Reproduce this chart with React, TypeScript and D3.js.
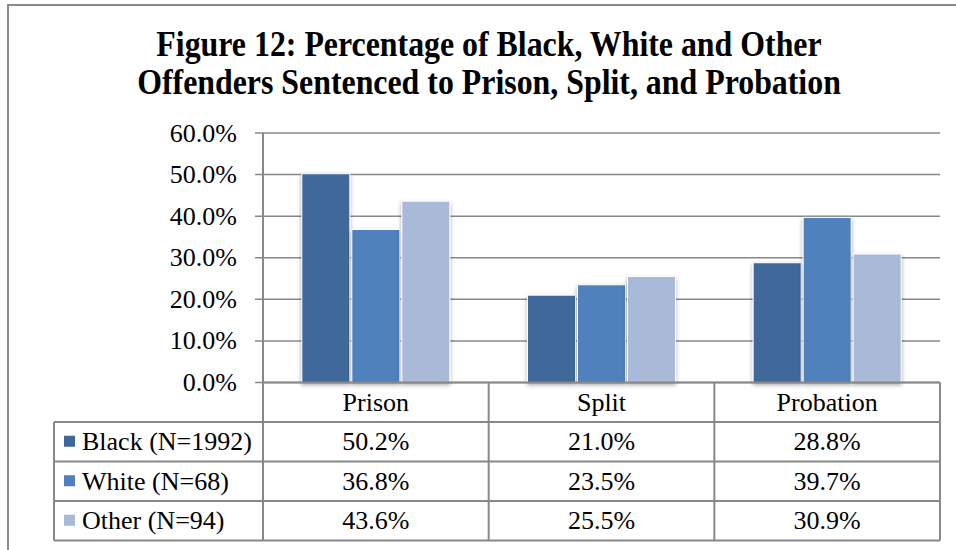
import React from "react";
import * as d3 from "d3";

const categories = ["Prison", "Split", "Probation"];
const seriesNames = ["Black (N=1992)", "White (N=68)", "Other (N=94)"];
const blackValues = [50.2, 21.0, 28.8];
const whiteValues = [36.8, 23.5, 39.7];
const otherValues = [43.6, 25.5, 30.9];
const yTicks = [0, 10, 20, 30, 40, 50, 60];
const titleLines = [
  "Figure 12: Percentage of Black, White and Other",
  "Offenders Sentenced to Prison, Split, and Probation",
];

const seriesValues = [blackValues, whiteValues, otherValues];
const colors = ["#3F679A", "#4F81BD", "#A9B9D8"];

const W = 956;
const H = 550;
const plotLeft = 263;
const plotRight = 940;
const plotTop = 133;
const plotBottom = 382.5;
const tableLeft = 54;
const rowH = 39.5;
const FONT = "'Liberation Serif', 'Times New Roman', serif";
const gridColor = "#888888";

export default function App() {
  const x0 = d3.scaleBand<string>().domain(categories).range([plotLeft, plotRight]).padding(0);
  const bw = x0.bandwidth();
  const groupW = bw * 0.656;
  const x1 = d3
    .scaleBand<string>()
    .domain(seriesNames)
    .range([(bw - groupW) / 2, (bw + groupW) / 2])
    .paddingInner(0.04)
    .paddingOuter(0);
  const y = d3.scaleLinear().domain([0, 60]).range([plotBottom, plotTop]);
  const fmt = (v: number) => d3.format(".1f")(v) + "%";

  const rowTops = [plotBottom, plotBottom + rowH, plotBottom + 2 * rowH, plotBottom + 3 * rowH];
  const tableBottom = plotBottom + 4 * rowH;

  return (
    <svg
      width={W}
      height={H}
      style={{ position: "absolute", left: 0, top: 0, background: "#fff" }}
      fontFamily={FONT}
    >
      <defs>
        <filter id="shadow" x="-20%" y="-20%" width="140%" height="140%">
          <feDropShadow dx="0" dy="2" stdDeviation="2" floodColor="#000" floodOpacity="0.35" />
        </filter>
      </defs>
      <rect x={0} y={0} width={W} height={H} fill="#fff" />
      {/* outer border */}
      <path d={`M8,${H} L8,5 L${W},5`} fill="none" stroke="#8a8a8a" strokeWidth={2} />

      {/* title */}
      {titleLines.map((t, i) => (
        <g key={t} transform={`translate(489,${56 + i * 37.5}) scale(0.885,1)`}>
          <text x={0} y={0} textAnchor="middle" fontWeight="bold" fontSize={36} fill="#000">
            {t}
          </text>
        </g>
      ))}

      {/* gridlines */}
      {yTicks.map((t) => (
        <g key={t}>
          <line x1={255} x2={plotRight} y1={y(t)} y2={y(t)} stroke={gridColor} strokeWidth={1.5} />
          <text
            x={237}
            y={y(t)}
            dy="0.33em"
            textAnchor="end"
            fontSize={26}
            fill="#000"
          >
            {fmt(t)}
          </text>
        </g>
      ))}
      <line x1={plotLeft} x2={plotLeft} y1={plotTop} y2={plotBottom} stroke={gridColor} strokeWidth={2} />

      {/* bars */}
      {categories.map((c, ci) => (
        <g key={c} transform={`translate(${x0(c)},0)`}>
          {seriesNames.map((s, si) => {
            const v = seriesValues[si][ci];
            return (
              <rect
                key={s}
                x={x1(s)}
                y={y(v)}
                width={x1.bandwidth()}
                height={plotBottom - y(v)}
                fill={colors[si]}
                stroke="#fff"
                strokeWidth={1}
                filter="url(#shadow)"
              />
            );
          })}
        </g>
      ))}

      {/* data table */}
      <g stroke={gridColor} strokeWidth={2} fill="none">
        <line x1={plotLeft} x2={plotRight} y1={plotBottom} y2={plotBottom} />
        {rowTops.slice(1).map((ry) => (
          <line key={ry} x1={tableLeft} x2={plotRight} y1={ry} y2={ry} />
        ))}
        <line x1={tableLeft} x2={plotRight} y1={tableBottom} y2={tableBottom} />
        <line x1={tableLeft} x2={tableLeft} y1={rowTops[1]} y2={tableBottom} />
        {categories.map((c) => (
          <line key={c} x1={x0(c)!} x2={x0(c)!} y1={plotBottom} y2={tableBottom} />
        ))}
        <line x1={plotRight} x2={plotRight} y1={plotBottom} y2={tableBottom} />
      </g>

      {categories.map((c) => (
        <text
          key={c}
          x={x0(c)! + bw / 2}
          y={plotBottom + rowH / 2}
          dy="0.33em"
          textAnchor="middle"
          fontSize={26}
          fill="#000"
        >
          {c}
        </text>
      ))}

      {seriesNames.map((s, si) => {
        const cy = rowTops[si + 1] + rowH / 2;
        return (
          <g key={s}>
            <rect x={64} y={cy - 6} width={11} height={11} fill={colors[si]} />
            <text x={82} y={cy} dy="0.33em" fontSize={26} fill="#000">
              {s}
            </text>
            {categories.map((c, ci) => (
              <text
                key={c}
                x={x0(c)! + bw / 2}
                y={cy}
                dy="0.33em"
                textAnchor="middle"
                fontSize={26}
                fill="#000"
              >
                {fmt(seriesValues[si][ci])}
              </text>
            ))}
          </g>
        );
      })}
    </svg>
  );
}
